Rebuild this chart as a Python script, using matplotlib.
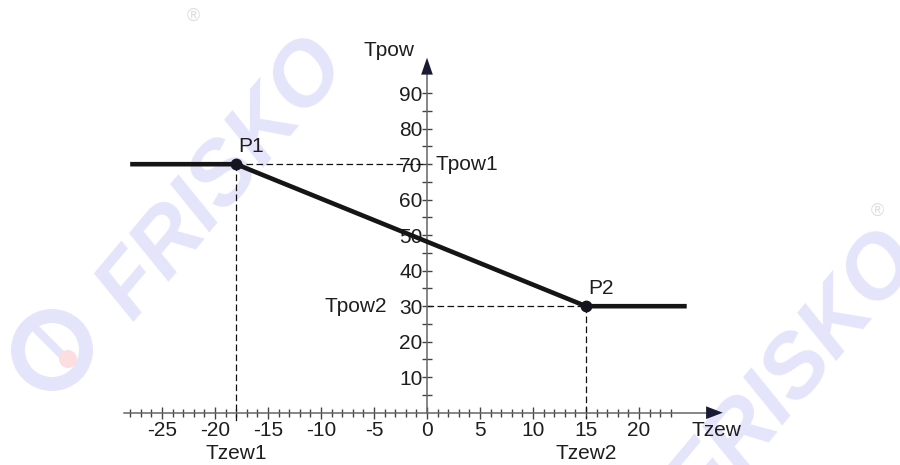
"""Heating curve chart: Tpow vs Tzew with two break points"""
import matplotlib
matplotlib.use("Agg")
import matplotlib.pyplot as plt
from matplotlib.patches import Circle

plt.rcParams['font.family'] = ['Liberation Sans', 'DejaVu Sans']
plt.rcParams['axes.unicode_minus'] = False

# curve data (outside temp -> supply temp)
curve_x = [-28, -18, 15, 24.5]
curve_y = [70, 70, 30, 30]
points_x = [-18, 15]
points_y = [70, 30]
point_names = ['P1', 'P2']

x_major = [-25, -20, -15, -10, -5, 0, 5, 10, 15, 20]
x_minor = list(range(-28, 24))
y_major = [10, 20, 30, 40, 50, 60, 70, 80, 90]
y_minor = [5, 15, 25, 35, 45, 55, 65, 75, 85]

FS = 15
TXT = '#1e1e1e'

fig = plt.figure(figsize=(9, 4.65), dpi=100)
ax = fig.add_axes([0, 0, 1, 1])
ax.set_xlim(-40.28, 44.62)
ax.set_ylim(-14.73, 116.25)

# watermark (behind everything)
wm = '#e4e4fa'
for cx, cy in [(0.248, 0.615), (0.884, 0.2)]:
    ax.text(cx, cy, 'FRISKO', transform=fig.transFigure, rotation=50,
            fontsize=64, fontweight='heavy', fontstyle='italic', color=wm,
            ha='center', va='center', zorder=0.1)
ax.add_patch(Circle((0.52, 1.15), 0.34, transform=fig.dpi_scale_trans,
                    fill=False, lw=10, ec=wm, zorder=0.1))
ax.plot([0.36, 0.62], [1.36, 1.10], transform=fig.dpi_scale_trans,
        color=wm, lw=6, solid_capstyle='round', zorder=0.15)
ax.add_patch(Circle((0.68, 1.06), 0.09, transform=fig.dpi_scale_trans,
                    fc='#fcdde0', ec='none', zorder=0.2))
ax.text(0.215, 0.965, '®', transform=fig.transFigure, fontsize=13,
        color='#dedede', ha='center', va='center', zorder=0.1)
ax.text(0.975, 0.545, '®', transform=fig.transFigure, fontsize=13,
        color='#dedede', ha='center', va='center', zorder=0.1)

# axes through origin
for side in ['top', 'right']:
    ax.spines[side].set_visible(False)
ax.spines['left'].set_position(('data', 0))
ax.spines['bottom'].set_position(('data', 0))
ax.spines['left'].set_bounds(0, 95)
ax.spines['bottom'].set_bounds(-28.6, 26.3)
for side in ['left', 'bottom']:
    ax.spines[side].set_color('#666666')
    ax.spines[side].set_linewidth(1.1)

ax.set_xticks(x_major)
ax.set_xticks(x_minor, minor=True)
ax.set_xticklabels([str(v) for v in x_major])
ax.set_yticks(y_major)
ax.set_yticks(y_minor, minor=True)
ax.set_yticklabels([str(v) for v in y_major])
ax.tick_params(axis='x', which='major', direction='inout', length=9, width=1,
               color='#444444', pad=1.5, labelsize=FS, labelcolor=TXT)
ax.tick_params(axis='x', which='minor', direction='inout', length=5.5, width=1,
               color='#444444')
ax.tick_params(axis='y', which='both', direction='inout', length=6.5, width=1,
               color='#444444', pad=0, labelsize=FS, labelcolor=TXT)

# axis arrows
ax.annotate('', xy=(27.9, 0), xytext=(26.2, 0),
            arrowprops=dict(arrowstyle='-|>,head_length=12,head_width=4.6',
                            mutation_scale=1, color='#1a1a33', lw=0,
                            shrinkA=0, shrinkB=0), zorder=5)
ax.annotate('', xy=(0, 100), xytext=(0, 95),
            arrowprops=dict(arrowstyle='-|>,head_length=12.2,head_width=4.2',
                            mutation_scale=1, color='#1a1a33', lw=0,
                            shrinkA=0, shrinkB=0), zorder=5)

# helper dashed lines
dash = dict(color='#111111', lw=0.9, linestyle=(0, (5.3, 2.7)), zorder=2)
ax.plot([points_x[0], 0], [points_y[0], points_y[0]], **dash)
ax.plot([points_x[0], points_x[0]], [points_y[0], -3], **dash)
ax.plot([0, points_x[1]], [points_y[1], points_y[1]], **dash)
ax.plot([points_x[1], points_x[1]], [points_y[1], -1.5], **dash)

# heating curve
ax.plot(curve_x, curve_y, color='#151515', lw=3.3, solid_capstyle='butt', zorder=3)
ax.plot(points_x, points_y, 'o', color='#151520', markersize=7.5, zorder=4)

for px, py, name in zip(points_x, points_y, point_names):
    ax.text(px + 0.2, py + 2.3, name, fontsize=FS, color=TXT, ha='left',
            va='bottom', zorder=5)

labels = dict(fontsize=FS, color=TXT, va='center', zorder=5)
ax.text(-1.2, 102, 'Tpow', ha='right', **labels)
ax.text(0.8, 70, 'Tpow1', ha='left', **labels)
ax.text(-3.8, 30, 'Tpow2', ha='right', **labels)
ax.text(27.3, -4.9, 'Tzew', ha='center', **labels)
ax.text(points_x[0], -11.6, 'Tzew1', ha='center', **labels)
ax.text(points_x[1], -11.6, 'Tzew2', ha='center', **labels)

fig.savefig('out.png', dpi=100)
